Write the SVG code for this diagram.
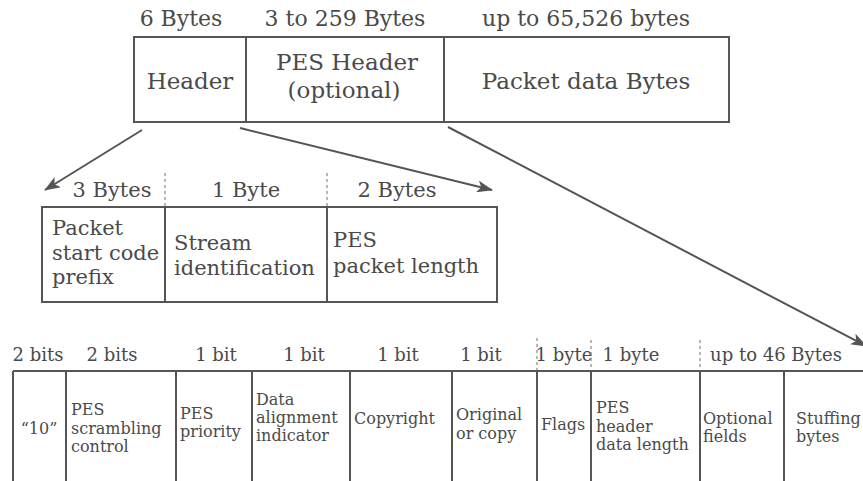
<svg xmlns="http://www.w3.org/2000/svg" width="863" height="481" viewBox="0 0 863 481">
  <style>
    .box { fill: none; stroke: #555; stroke-width: 2; }
    .div { stroke: #555; stroke-width: 2; }
    .tick { stroke: #888; stroke-width: 1.2; stroke-dasharray: 3 3; }
    .arrow { stroke: #555; stroke-width: 2; fill: none; marker-end: url(#head); }
    text { font-family: "DejaVu Serif", "Liberation Serif", serif; fill: #4a4a4a; }
    .t1 { font-size: 22px; }
    .h1 { font-size: 23px; }
    .t2 { font-size: 21px; }
    .l3 { font-size: 18px; }
    .c3 { font-size: 16px; }
    .mid { text-anchor: middle; }
  </style>
  <defs>
    <marker id="head" viewBox="0 0 16 12" refX="15" refY="6" markerWidth="16" markerHeight="12" markerUnits="userSpaceOnUse" orient="auto">
      <path d="M0,0 L16,6 L0,12 L4,6 Z" fill="#555"/>
    </marker>
  </defs>

  <!-- Size labels above the packet -->
  <g id="packet-sizes" class="t1">
    <text x="181" y="26" class="mid">6 Bytes</text>
    <text x="345" y="26" class="mid">3 to 259 Bytes</text>
    <text x="586" y="26" class="mid">up to 65,526 bytes</text>
  </g>

  <!-- PES packet -->
  <g id="pes-packet">
    <rect class="box" x="134" y="37" width="595" height="85"/>
    <line class="div" x1="246" y1="37" x2="246" y2="122"/>
    <line class="div" x1="444" y1="37" x2="444" y2="122"/>
    <text class="h1 mid" x="190" y="89">Header</text>
    <text class="h1 mid" x="347" y="70">PES Header</text>
    <text class="h1 mid" x="344" y="98">(optional)</text>
    <text class="h1 mid" x="586" y="89">Packet data Bytes</text>
  </g>

  <!-- Connectors -->
  <g id="connectors">
    <line class="arrow" x1="142" y1="130" x2="45" y2="190"/>
    <line class="arrow" x1="240" y1="128" x2="492" y2="190"/>
    <line class="arrow" x1="448" y1="127" x2="866" y2="346"/>
  </g>

  <!-- Header breakdown -->
  <g id="header-sizes" class="t2">
    <text x="112" y="197" class="mid">3 Bytes</text>
    <text x="246" y="197" class="mid">1 Byte</text>
    <text x="397" y="197" class="mid">2 Bytes</text>
    <line class="tick" x1="165" y1="173" x2="165" y2="207"/>
    <line class="tick" x1="327" y1="173" x2="327" y2="207"/>
  </g>
  <g id="header-fields" class="t2">
    <rect class="box" x="42" y="207" width="455" height="95"/>
    <line class="div" x1="165" y1="207" x2="165" y2="302"/>
    <line class="div" x1="327" y1="207" x2="327" y2="302"/>
    <text x="52" y="235">Packet</text>
    <text x="52" y="260">start code</text>
    <text x="52" y="284">prefix</text>
    <text x="174" y="250">Stream</text>
    <text x="174" y="275">identification</text>
    <text x="333" y="247">PES</text>
    <text x="333" y="273">packet length</text>
  </g>

  <!-- PES header breakdown -->
  <g id="pes-header-sizes" class="l3">
    <text x="38" y="361" class="mid">2 bits</text>
    <text x="112" y="361" class="mid">2 bits</text>
    <text x="216" y="361" class="mid">1 bit</text>
    <text x="304" y="361" class="mid">1 bit</text>
    <text x="398" y="361" class="mid">1 bit</text>
    <text x="481" y="361" class="mid">1 bit</text>
    <text x="564" y="361" class="mid">1 byte</text>
    <text x="631" y="361" class="mid">1 byte</text>
    <text x="776" y="361" class="mid">up to 46 Bytes</text>
    <line class="tick" x1="537" y1="338" x2="537" y2="371"/>
    <line class="tick" x1="591" y1="340" x2="591" y2="371"/>
    <line class="tick" x1="700" y1="340" x2="700" y2="371"/>
  </g>
  <g id="pes-header-fields" class="c3">
    <line class="div" x1="13" y1="371" x2="863" y2="371"/>
    <line class="div" x1="13" y1="371" x2="13" y2="481"/>
    <line class="div" x1="66" y1="371" x2="66" y2="481"/>
    <line class="div" x1="176" y1="371" x2="176" y2="481"/>
    <line class="div" x1="252" y1="371" x2="252" y2="481"/>
    <line class="div" x1="350" y1="371" x2="350" y2="481"/>
    <line class="div" x1="452" y1="371" x2="452" y2="481"/>
    <line class="div" x1="537" y1="371" x2="537" y2="481"/>
    <line class="div" x1="591" y1="371" x2="591" y2="481"/>
    <line class="div" x1="700" y1="371" x2="700" y2="481"/>
    <line class="div" x1="784" y1="371" x2="784" y2="481"/>
    <text x="39" y="434" class="mid">“10”</text>
    <text x="71" y="415">PES</text>
    <text x="71" y="434">scrambling</text>
    <text x="71" y="452">control</text>
    <text x="180" y="419">PES</text>
    <text x="180" y="437">priority</text>
    <text x="256" y="405">Data</text>
    <text x="256" y="423">alignment</text>
    <text x="256" y="441">indicator</text>
    <text x="354" y="424">Copyright</text>
    <text x="456" y="420">Original</text>
    <text x="456" y="439">or copy</text>
    <text x="541" y="430">Flags</text>
    <text x="596" y="413">PES</text>
    <text x="596" y="432">header</text>
    <text x="596" y="450">data length</text>
    <text x="703" y="424">Optional</text>
    <text x="703" y="442">fields</text>
    <text x="796" y="424">Stuffing</text>
    <text x="796" y="442">bytes</text>
  </g>
</svg>
